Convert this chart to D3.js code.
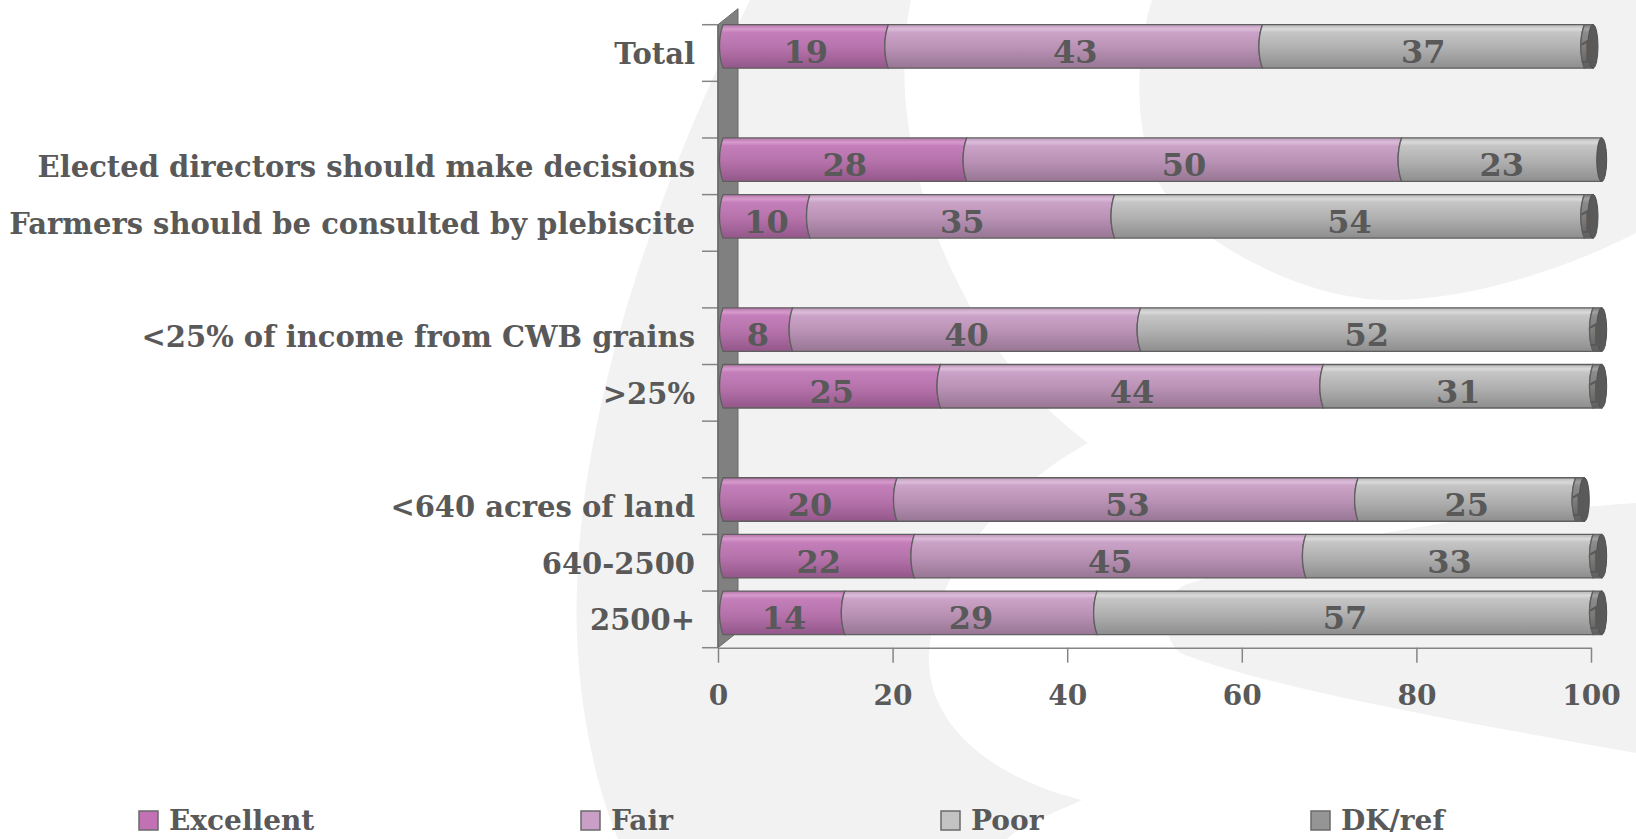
<!DOCTYPE html>
<html>
<head>
<meta charset="utf-8">
<script src="https://cdn.jsdelivr.net/npm/d3@7"></script>
<style>
  html, body { margin: 0; padding: 0; background: #ffffff; }
  svg { display: block; }
  text { font-family: "DejaVu Serif", "Liberation Serif", serif; font-weight: bold; fill: #595959; }
</style>
</head>
<body>
<svg id="chart" width="1636" height="839"></svg>
<script>
// ---- data -------------------------------------------------------------
const groups = [
  ["Total"],
  ["Elected directors should make decisions", "Farmers should be consulted by plebiscite"],
  ["<25% of income from CWB grains", ">25%"],
  ["<640 acres of land", "640-2500", "2500+"]
];
const categories = groups.flat();
const seriesNames = ["Excellent", "Fair", "Poor", "DK/ref"];
const excellent = [19, 28, 10, 8, 25, 20, 22, 14];
const fair      = [43, 50, 35, 40, 44, 53, 45, 29];
const poor      = [37, 23, 54, 52, 31, 25, 33, 57];
const dkRef     = [1, 0, 1, 1, 1, 1, 1, 1];
const xTicks    = [0, 20, 40, 60, 80, 100];

// ---- layout -----------------------------------------------------------
const W = 1636, H = 839;
const svg = d3.select("#chart");

// rows with a blank slot between groups
const rows = [];
groups.forEach((g, i) => {
  if (i > 0) rows.push("gap" + i);
  g.forEach(c => rows.push(c));
});

const y = d3.scaleBand().domain(rows).range([24.7, 647.7]).paddingInner(0).paddingOuter(0);
const x = d3.scaleLinear().domain([0, 100]).range([718, 1591]);        // front plane (axis)
const xb = d3.scaleLinear().domain([0, 100]).range([723, 1593]);       // bar plane (3-D depth)
const barH = 43.5;
const depth = { dx: 20, dy: -16 };

// ---- background swooshes ---------------------------------------------
svg.append("rect").attr("width", W).attr("height", H).attr("fill", "#ffffff");
const bg = svg.append("g").attr("fill", "#f2f2f2");
bg.append("path").attr("d",
  "M750,0 L911,0 C880,150 960,350 1088,443 C1020,480 935,560 929,653 " +
  "C925,730 1000,780 1082,800 C1050,815 1020,825 1007,839 L618,839 " +
  "C585,760 574,660 577,587 C582,400 660,180 750,0 Z");
bg.append("path").attr("d",
  "M1152,0 C1135,50 1130,150 1170,200 C1200,240 1300,300 1391,300 " +
  "C1480,300 1580,262 1636,233 L1636,0 Z");
bg.append("path").attr("d",
  "M1185,585 C1300,545 1450,515 1636,503 L1636,753 C1450,720 1280,690 1185,655 " +
  "C1160,645 1160,595 1185,585 Z");

// ---- gradients --------------------------------------------------------
const defs = svg.append("defs");
const palettes = {
  "Excellent": ["#b474a9", "#d69bcc", "#c47fba", "#b572aa", "#93578a"],
  "Fair":      ["#bf99bc", "#dcbdda", "#cba3c8", "#b891b4", "#987694"],
  "Poor":      ["#b6b6b6", "#dadada", "#c5c5c5", "#afafaf", "#8e8e8e"],
  "DK/ref":    ["#7a7a7a", "#a2a2a2", "#8c8c8c", "#7c7c7c", "#5e5e5e"]
};
const legendFill = { "Excellent": "#c271b5", "Fair": "#c99fc8", "Poor": "#c3c3c3", "DK/ref": "#959595" };
seriesNames.forEach((s, i) => {
  const g = defs.append("linearGradient").attr("id", "grad" + i)
    .attr("x1", 0).attr("y1", 0).attr("x2", 0).attr("y2", 1);
  const p = palettes[s];
  [[0, p[0]], [0.1, p[1]], [0.18, p[2]], [0.55, p[3]], [1, p[4]]].forEach(([o, c]) =>
    g.append("stop").attr("offset", o).attr("stop-color", c));
});

// ---- side wall --------------------------------------------------------
const yTop = y.range()[0], yBot = y.range()[1];
svg.append("path")
  .attr("d", `M${x(0)},${yTop} L${x(0) + depth.dx},${yTop + depth.dy} L${x(0) + depth.dx},${yBot + depth.dy} L${x(0)},${yBot} Z`)
  .attr("fill", "#808080").attr("stroke", "#6a6a6a").attr("stroke-width", 1);

// ---- axes -------------------------------------------------------------
const axisColor = "#858585";
// category ticks at band boundaries
const boundaries = rows.map(r => y(r)).concat([yBot]);
svg.append("g").selectAll("line").data(boundaries).join("line")
  .attr("x1", x(0) - 16).attr("x2", x(0))
  .attr("y1", d => d).attr("y2", d => d)
  .attr("stroke", axisColor).attr("stroke-width", 1.5);
svg.append("line").attr("x1", x(0)).attr("x2", x(0)).attr("y1", yTop).attr("y2", yBot)
  .attr("stroke", "#6a6a6a").attr("stroke-width", 1.5);

const xAxis = d3.axisBottom(x).tickValues(xTicks).tickSize(15).tickSizeOuter(0).tickPadding(22);
const gx = svg.append("g").attr("transform", `translate(0,${yBot})`).call(xAxis);
gx.select(".domain").attr("stroke", axisColor).attr("stroke-width", 1.5);
gx.selectAll(".tick line").attr("stroke", axisColor).attr("stroke-width", 1.5);
gx.selectAll(".tick text").attr("fill", "#595959").style("font-size", "28px")
  .style("font-family", "DejaVu Serif, serif").style("font-weight", "bold");

// ---- category labels --------------------------------------------------
svg.append("g").selectAll("text").data(categories).join("text")
  .attr("x", 695)
  .attr("y", d => y(d) + y.bandwidth() / 2 + 11)
  .attr("text-anchor", "end")
  .style("font-size", "29px")
  .text(d => d);

// ---- bars -------------------------------------------------------------
const table = categories.map((c, i) => ({
  cat: c, "Excellent": excellent[i], "Fair": fair[i], "Poor": poor[i], "DK/ref": dkRef[i]
}));
const stacked = d3.stack().keys(seriesNames)(table);

function segPath(x0, x1, top, h, b) {
  const bot = top + h, c = b * 1.33;
  return `M${x0},${top}L${x1},${top}` +
    `C${x1 - c},${top + h * 0.3} ${x1 - c},${top + h * 0.7} ${x1},${bot}` +
    `L${x0},${bot}` +
    `C${x0 - c},${top + h * 0.7} ${x0 - c},${top + h * 0.3} ${x0},${top}Z`;
}
const barTop = cat => y(cat) + (y.bandwidth() - barH) / 2 - 6.6;

const barsG = svg.append("g");
stacked.forEach((layer, si) => {
  barsG.append("g").selectAll("path").data(layer.filter(d => d[1] > d[0])).join("path")
    .attr("d", d => segPath(xb(d[0]), xb(d[1]), barTop(d.data.cat), barH, 3.5))
    .attr("fill", `url(#grad${si})`)
    .attr("stroke", "#5f5f5f").attr("stroke-width", 1.3);
});
// cylinder end caps
barsG.append("g").selectAll("ellipse").data(table).join("ellipse")
  .attr("cx", d => xb(d3.sum(seriesNames, s => d[s])))
  .attr("cy", d => barTop(d.cat) + barH / 2)
  .attr("rx", 5).attr("ry", barH / 2)
  .attr("fill", "#5a5a5a").attr("stroke", "#4f4f4f").attr("stroke-width", 1);

// ---- value labels -----------------------------------------------------
const labelsG = svg.append("g");
stacked.forEach(layer => {
  labelsG.append("g").selectAll("text").data(layer.filter(d => d[1] > d[0])).join("text")
    .attr("x", d => xb((d[0] + d[1]) / 2))
    .attr("y", d => y(d.data.cat) + y.bandwidth() / 2 + 10)
    .attr("text-anchor", "middle")
    .style("font-size", "32px")
    .attr("fill", "#555555")
    .text(d => d[1] - d[0]);
});

// ---- legend -----------------------------------------------------------
const legendX = [139, 581, 941, 1311];
const lg = svg.append("g").selectAll("g").data(seriesNames).join("g")
  .attr("transform", (d, i) => `translate(${legendX[i]},811)`);
lg.append("rect").attr("width", 19).attr("height", 19)
  .attr("fill", d => legendFill[d]).attr("stroke", "#6a6a6a").attr("stroke-width", 1.5);
lg.append("text").attr("x", 30).attr("y", 19).style("font-size", "28px").text(d => d);
</script>
</body>
</html>
